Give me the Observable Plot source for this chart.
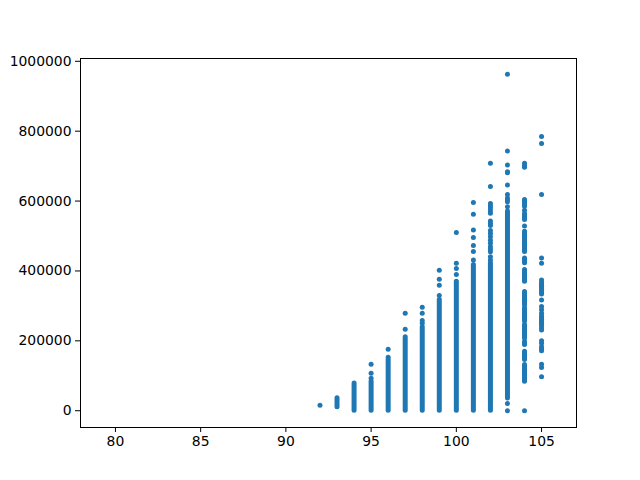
<!DOCTYPE html>
<html>
<head>
<meta charset="utf-8">
<script src="https://cdn.jsdelivr.net/npm/d3@7"></script>
<script src="https://cdn.jsdelivr.net/npm/@observablehq/plot@0.6"></script>
<style>
  html, body { margin: 0; padding: 0; background: #fff; }
</style>
</head>
<body>
<div id="chart"></div>
<script>
// Dense runs of points (each column is nearly continuous between lo and hi)
const segX  = [93, 94, 95, 96, 97, 98, 99, 100, 101, 102, 103,
               104, 104, 104, 104, 104, 104, 104, 104, 104, 104, 104];
const segLo = [10000, 0, 0, 0, 0, 0, 0, 0, 0, 0, 35000,
               454000, 546000, 422000, 369000, 302000, 255000, 207000, 188000, 145000, 83000, 584000];
const segHi = [36000, 72000, 83000, 145000, 210000, 239000, 317000, 369000, 417000, 422000, 570000,
               512000, 563000, 436000, 403000, 340000, 293000, 245000, 197000, 169000, 131000, 603000];

// Individual (sparse) points
const dotX = [
  92,
  94,
  95, 95, 95,
  96, 96,
  97, 97,
  98, 98, 98, 98,
  99, 99, 99, 99,
  100, 100, 100, 100,
  101, 101, 101, 101, 101, 101, 101,
  102, 102, 102, 102, 102, 102, 102, 102, 102, 102, 102, 102, 102, 102, 102, 102, 102, 102, 102, 102,
  103, 103, 103, 103, 103, 103, 103, 103, 103, 103, 103, 103, 103,
  104, 104, 104, 104, 104, 104,
  105, 105, 105, 105, 105, 105, 105, 105, 105, 105, 105, 105, 105, 105, 105, 105, 105, 105,
  105, 105, 105, 105, 105, 105, 105, 105, 105, 105, 105, 105, 105, 105, 105, 105, 105, 105
];
const dotY = [
  15500,
  79000,
  93000, 107000, 133000,
  153000, 176000,
  233000, 279000,
  250000, 258000, 279000, 296000,
  330000, 359000, 376000, 402000,
  390000, 407000, 422000, 510000,
  431000, 456000, 473000, 496000, 517000, 562000, 596000,
  431000, 441000, 455000, 462000, 469000, 479000, 488000, 498000, 507000, 516000,
  530000, 536000, 543000, 565000, 572000, 580000, 586000, 593000, 642000, 708000,
  0, 21000, 584000, 598000, 603000, 609000, 619000, 646000, 681000, 684000, 703000, 743000, 963000,
  0, 529000, 697000, 702000, 708000, 574000,
  785000, 765000, 619000, 437000, 422000, 374000, 367000, 363000, 359000, 355000, 351000, 348000, 343000, 338000, 334000, 317000, 298000, 289000,
  279000, 271000, 266000, 262000, 257000, 253000, 248000, 244000, 237000, 231000, 200000, 193000, 183000, 177000, 172000, 133000, 124000, 97000
];

const xTicks = [80, 85, 90, 95, 100, 105];
const yTicks = [0, 200000, 400000, 600000, 800000, 1000000];

const segs = segX.map((x, i) => ({x, lo: segLo[i], hi: segHi[i]}));
const dots = dotX.map((x, i) => ({x, y: dotY[i]}));
const C = "#1f77b4";

const chart = Plot.plot({
  width: 640,
  height: 480,
  marginLeft: 80,
  marginRight: 64,
  marginTop: 58,
  marginBottom: 53,
  style: {fontFamily: "DejaVu Sans", fontSize: "13.9px", color: "#000", background: "#fff"},
  x: {domain: [77.95, 107.05], ticks: xTicks, tickFormat: d3.format("d"), label: null, tickSize: 5, tickPadding: 4},
  y: {domain: [-48000, 1008000], ticks: yTicks, tickFormat: d3.format("d"), label: null, tickSize: 5, tickPadding: 4},
  marks: [
    Plot.ruleX(segs, {x: "x", y1: "lo", y2: "hi", stroke: C, strokeWidth: 5, strokeLinecap: "round"}),
    Plot.dot(dots, {x: "x", y: "y", r: 2.5, fill: C, stroke: "none"}),
    Plot.frame({stroke: "#000", strokeWidth: 1})
  ]
});
document.getElementById("chart").appendChild(chart);
</script>
</body>
</html>
